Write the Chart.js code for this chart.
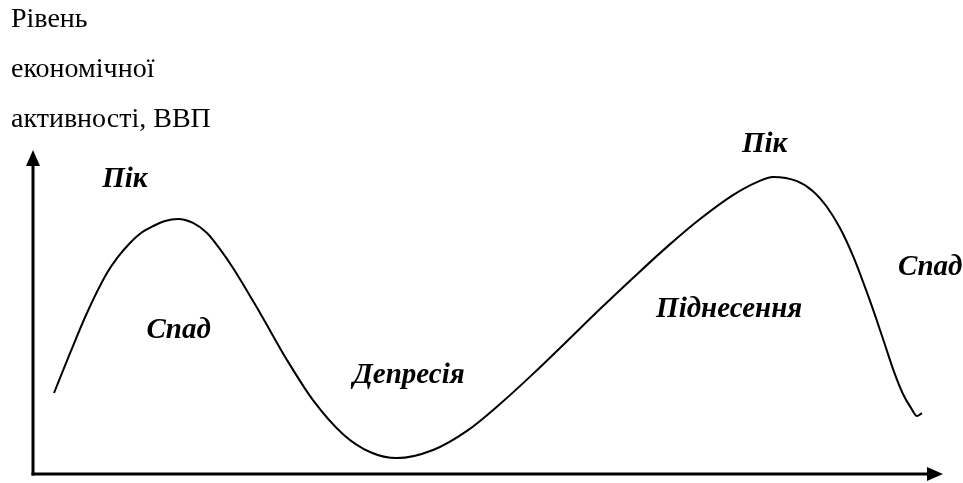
<!DOCTYPE html>
<html lang="uk">
<head>
<meta charset="utf-8">
<title>Економічний цикл</title>
<script src="https://cdn.jsdelivr.net/npm/chart.js@4.4.1/dist/chart.umd.min.js"></script>
<style>
  html, body { margin: 0; padding: 0; background: #ffffff; }
  #wrap { position: relative; width: 963px; height: 483px; }
</style>
</head>
<body>
<div id="wrap"><canvas id="c"></canvas></div>
<script>
// ---- data (time index vs. level of economic activity, arbitrary units 0..100) ----
const cycleX = [2.31, 4.07, 5.93, 8.13, 9.34, 10.66, 11.87, 13.19, 14.51, 15.93, 17.58, 19.12, 20.55, 21.98, 24.95, 27.91, 30.77, 34.07, 37.03, 40.00, 43.96, 47.69, 51.32, 54.95, 58.68, 62.31, 65.93, 69.67, 73.30, 76.92, 79.56, 81.32, 83.96, 85.71, 87.25, 88.68, 90.11, 91.54, 92.64, 93.63, 94.62, 95.60, 96.48, 97.14, 97.69];
const cycleY = [25.0, 37.3, 49.7, 62.0, 67.0, 71.3, 74.4, 76.5, 78.1, 78.7, 77.5, 74.4, 69.4, 63.6, 49.7, 35.2, 22.8, 12.3, 6.8, 4.9, 7.4, 13.3, 21.6, 30.9, 41.0, 50.9, 60.5, 70.1, 78.7, 86.1, 90.1, 91.7, 90.4, 87.3, 82.4, 75.9, 67.3, 56.8, 48.1, 39.8, 31.5, 24.7, 20.4, 17.9, 18.8];

// phase labels and where they sit (data units)
const phaseNames = ['Пік', 'Спад', 'Депресія', 'Пік', 'Піднесення', 'Спад'];
const phaseX = [10.1, 16.0, 41.3, 80.4, 76.5, 98.6];
const phaseY = [88.6, 42.0, 28.1, 99.4, 48.5, 61.4];

// axis title lines
const yTitleLines = ['Рівень', 'економічної', 'активності, ВВП'];

const points = cycleX.map((x, i) => ({ x: x, y: cycleY[i] }));

const axesArrows = {
  id: 'axesArrows',
  beforeDatasetsDraw(chart) {
    const ctx = chart.ctx;
    const a = chart.chartArea;
    ctx.save();
    ctx.strokeStyle = '#000';
    ctx.fillStyle = '#000';
    ctx.lineWidth = 3;
    ctx.lineCap = 'butt';
    // vertical axis
    ctx.beginPath();
    ctx.moveTo(a.left, a.bottom + 1.5);
    ctx.lineTo(a.left, a.top + 12);
    ctx.stroke();
    ctx.beginPath();
    ctx.moveTo(a.left, a.top);
    ctx.lineTo(a.left - 7, a.top + 16);
    ctx.lineTo(a.left + 7, a.top + 16);
    ctx.closePath();
    ctx.fill();
    // horizontal axis
    ctx.beginPath();
    ctx.moveTo(a.left - 1.5, a.bottom);
    ctx.lineTo(a.right - 12, a.bottom);
    ctx.stroke();
    ctx.beginPath();
    ctx.moveTo(a.right, a.bottom);
    ctx.lineTo(a.right - 16, a.bottom - 7);
    ctx.lineTo(a.right - 16, a.bottom + 7);
    ctx.closePath();
    ctx.fill();
    ctx.restore();
  },
  afterDatasetsDraw(chart) {
    const ctx = chart.ctx;
    const xs = chart.scales.x, ys = chart.scales.y;
    ctx.save();
    ctx.fillStyle = '#000';
    ctx.textBaseline = 'alphabetic';
    // axis title
    ctx.textAlign = 'left';
    ctx.font = '28px "Liberation Serif", "Times New Roman", serif';
    yTitleLines.forEach((t, i) => ctx.fillText(t, 11, 27 + i * 50));
    // phase labels
    ctx.textAlign = 'center';
    ctx.font = 'italic bold 29px "Liberation Serif", "Times New Roman", serif';
    phaseNames.forEach((t, i) => {
      ctx.fillText(t, xs.getPixelForValue(phaseX[i]), ys.getPixelForValue(phaseY[i]));
    });
    ctx.restore();
  }
};

new Chart(document.getElementById('c'), {
  type: 'line',
  data: {
    datasets: [{
      data: points,
      borderColor: '#000',
      borderWidth: 2,
      pointRadius: 0,
      cubicInterpolationMode: 'monotone',
      fill: false
    }]
  },
  options: {
    responsive: true,
    maintainAspectRatio: false,
    animation: false,
    layout: { padding: { left: 33, right: 20, top: 150, bottom: 9 } },
    plugins: { legend: { display: false }, tooltip: { enabled: false } },
    scales: {
      x: { type: 'linear', min: 0, max: 100, display: false },
      y: { type: 'linear', min: 0, max: 100, display: false }
    }
  },
  plugins: [axesArrows]
});
</script>
</body>
</html>
